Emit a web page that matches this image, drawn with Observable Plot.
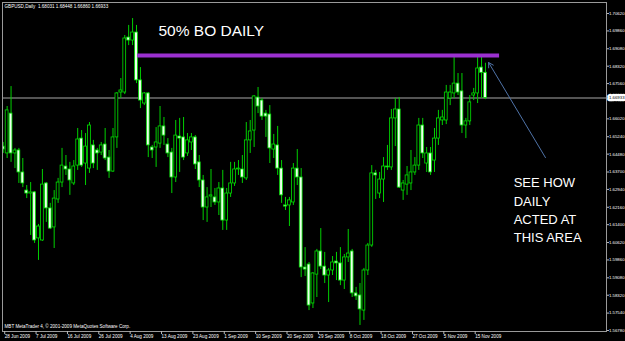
<!DOCTYPE html>
<html>
<head>
<meta charset="utf-8">
<script src="https://cdn.jsdelivr.net/npm/d3@7"></script>
<script src="https://cdn.jsdelivr.net/npm/@observablehq/plot@0.6"></script>
<style>
  html, body { margin: 0; padding: 0; background: #000; }
  #chart svg { display: block; }
</style>
</head>
<body>
<div id="chart"></div>
<script>
// GBPUSD Daily, bars 28 Jun 2009 .. 18 Nov 2009 (index 0..123, Sunday bars included)
const open = [
1.6481,1.6451,1.6625,1.6451,1.6464,1.6368,1.6289,1.6276,1.6281,1.6080,
1.6071,1.6320,1.6211,1.6128,1.6250,1.6324,1.6394,1.6381,1.6320,1.6398,
1.6516,1.6407,1.6385,1.6486,1.6464,1.6455,1.6490,1.6433,1.6372,1.6521,
1.6717,1.6717,1.6957,1.6944,1.6979,1.6770,1.6669,1.6713,1.6477,1.6477,
1.6494,1.6569,1.6490,1.6455,1.6346,1.6525,1.6521,1.6451,1.6499,1.6521,
1.6412,1.6333,1.6215,1.6263,1.6259,1.6237,1.6298,1.6158,1.6276,1.6320,
1.6381,1.6381,1.6342,1.6508,1.6551,1.6695,1.6682,1.6625,1.6621,1.6468,
1.6486,1.6385,1.6224,1.6224,1.6237,1.6385,1.6346,1.5953,1.5966,1.5796,
1.5922,1.6023,1.5957,1.5918,1.5940,1.5979,1.5971,1.5896,1.5997,1.6023,
1.5840,1.5831,1.5765,1.5940,1.6049,1.6364,1.6276,1.6337,1.6394,1.6390,
1.6604,1.6643,1.6289,1.6315,1.6320,1.6368,1.6398,1.6573,1.6407,1.6451,
1.6420,1.6516,1.6595,1.6595,1.6691,1.6713,1.6756,1.6722,1.6573,1.6591,
1.6704,1.6713,1.6826,1.68031];
const high = [
1.6499,1.6656,1.6743,1.6473,1.6473,1.6429,1.6311,1.6324,1.6285,1.6141,
1.6381,1.6324,1.6233,1.6289,1.6342,1.6473,1.6442,1.6412,1.6420,1.6560,
1.6551,1.6538,1.6586,1.6508,1.6473,1.6499,1.6560,1.6464,1.6560,1.6717,
1.6778,1.6966,1.7010,1.7040,1.7010,1.6826,1.6717,1.6717,1.6486,1.6564,
1.6656,1.6608,1.6516,1.6473,1.6595,1.6604,1.6608,1.6538,1.6538,1.6529,
1.6442,1.6355,1.6302,1.6381,1.6298,1.6324,1.6377,1.6298,1.6412,1.6412,
1.6420,1.6442,1.6586,1.6595,1.6704,1.6739,1.6691,1.6639,1.6660,1.6534,
1.6569,1.6420,1.6259,1.6259,1.6407,1.6468,1.6385,1.6040,1.5975,1.5931,
1.6032,1.6123,1.6019,1.5949,1.6001,1.6019,1.6040,1.6010,1.6119,1.6032,
1.5866,1.5883,1.5949,1.6058,1.6398,1.6377,1.6368,1.6433,1.6486,1.6643,
1.6691,1.6695,1.6333,1.6394,1.6464,1.6433,1.6604,1.6604,1.6477,1.6477,
1.6560,1.6639,1.6639,1.6748,1.6748,1.6870,1.6800,1.6800,1.6604,1.6704,
1.6735,1.6874,1.6874,1.68448];
const low = [
1.6451,1.6429,1.6412,1.6385,1.6320,1.6302,1.6254,1.6093,1.6058,1.5984,
1.6067,1.6150,1.6119,1.6036,1.6233,1.6302,1.6355,1.6268,1.6311,1.6377,
1.6390,1.6311,1.6364,1.6385,1.6377,1.6442,1.6420,1.6342,1.6368,1.6473,
1.6691,1.6708,1.6922,1.6922,1.6756,1.6647,1.6660,1.6433,1.6429,1.6390,
1.6473,1.6486,1.6433,1.6276,1.6324,1.6368,1.6420,1.6438,1.6464,1.6381,
1.6302,1.6158,1.6150,1.6215,1.6224,1.6180,1.6115,1.6115,1.6259,1.6307,
1.6355,1.6320,1.6333,1.6451,1.6477,1.6625,1.6595,1.6521,1.6407,1.6429,
1.6355,1.6233,1.6202,1.6132,1.6224,1.6311,1.5909,1.5914,1.5765,1.5774,
1.5822,1.5944,1.5883,1.5800,1.5918,1.5896,1.5874,1.5857,1.5975,1.5822,
1.5809,1.5700,1.5722,1.5918,1.6041,1.6250,1.6254,1.6237,1.6377,1.6377,
1.6481,1.6298,1.6246,1.6268,1.6289,1.6355,1.6377,1.6429,1.6368,1.6355,
1.6368,1.6486,1.6573,1.6577,1.6660,1.6691,1.6704,1.6538,1.6516,1.6573,
1.6682,1.6669,1.6691,1.66860];
const close = [
1.6468,1.6639,1.6451,1.6464,1.6368,1.6320,1.6276,1.6281,1.6071,1.6132,
1.6315,1.6211,1.6123,1.6254,1.6324,1.6398,1.6381,1.6333,1.6394,1.6512,
1.6398,1.6481,1.6573,1.6407,1.6451,1.6486,1.6429,1.6372,1.6521,1.6713,
1.6726,1.6953,1.6944,1.6979,1.6770,1.6682,1.6713,1.6486,1.6464,1.6499,
1.6569,1.6529,1.6451,1.6346,1.6529,1.6516,1.6433,1.6508,1.6521,1.6403,
1.6333,1.6215,1.6259,1.6268,1.6237,1.6298,1.6158,1.6276,1.6320,1.6381,
1.6385,1.6346,1.6508,1.6547,1.6700,1.6656,1.6612,1.6612,1.6473,1.6490,
1.6385,1.6268,1.6219,1.6246,1.6385,1.6346,1.5953,1.5944,1.5787,1.5927,
1.6023,1.5957,1.5918,1.5940,1.5975,1.5971,1.5896,1.5997,1.6014,1.5840,
1.5827,1.5770,1.5940,1.6049,1.6364,1.6355,1.6337,1.6394,1.6390,1.6604,
1.6643,1.6302,1.6320,1.6355,1.6368,1.6398,1.6573,1.6451,1.6451,1.6368,
1.6516,1.6604,1.6608,1.6717,1.6717,1.6756,1.6717,1.6573,1.6591,1.6674,
1.6713,1.6822,1.6803,1.66933];

// date axis labels (every 8 bars)
const dateTickIndex = [0,8,16,24,32,40,48,56,64,72,80,88,96,104,112,120];
const dateLabels = ["28 Jun 2009","7 Jul 2009","16 Jul 2009","26 Jul 2009","4 Aug 2009",
  "13 Aug 2009","23 Aug 2009","1 Sep 2009","10 Sep 2009","20 Sep 2009","29 Sep 2009",
  "8 Oct 2009","18 Oct 2009","27 Oct 2009","5 Nov 2009","15 Nov 2009"];
// price axis labels
const priceTicks = [1.70620,1.69860,1.69080,1.68320,1.67560,1.66020,1.65240,1.64480,1.63700,
  1.62940,1.62160,1.61400,1.60620,1.59860,1.59080,1.58320,1.57540,1.56780];

const currentPrice = 1.66933;
const titleText = "GBPUSD,Daily  1.68031 1.68448 1.66860 1.66933";
const copyrightText = "MBT MetaTrader 4, \u00a9 2001-2009 MetaQuotes Software Corp.";

// drawn objects (in bar-index / price units)
const levelLine = [{from: 34.3, to: 126.6, price: 1.6879}];
const arrowLine = [{fromX: 138.3, fromP: 1.6433, toX: 123.8, toP: 1.6848}];
const headNote = [{x: 39.6, p: 1.6984, text: "50% BO DAILY"}];
const sideNote = [{x: 130.2, p: 1.6359, text: "SEE HOW\nDAILY\nACTED AT\nTHIS AREA"}];

const candles = open.map((o, i) => ({i, o, h: high[i], l: low[i], c: close[i]}));
const green = "#00d000";
const fontTiny = "Liberation Sans, Arial, sans-serif";

const chart = Plot.plot({
  width: 625,
  height: 341,
  marginLeft: 2,
  marginRight: 19,
  marginTop: 2,
  marginBottom: 10,
  style: {background: "#000", color: "#fff", fontFamily: fontTiny},
  x: {type: "linear", domain: [-0.18, 153.87], axis: null},
  y: {type: "linear", domain: [1.56736, 1.71101], axis: null},
  marks: [
    Plot.ruleY([currentPrice], {stroke: "#707070", strokeWidth: 1.5}),
    Plot.ruleX(candles, {x: "i", y1: "l", y2: "h", stroke: green, strokeWidth: 1, clip: true}),
    Plot.rect(candles, {
      x1: d => d.i - 0.36, x2: d => d.i + 0.36,
      y1: d => Math.min(d.o, d.c), y2: d => Math.max(d.o, d.c),
      fill: d => d.c < d.o ? "#ecffec" : "#000",
      stroke: "#00e000", strokeWidth: 0.8, clip: true
    }),
    Plot.ruleY(levelLine, {x1: "from", x2: "to", y: "price", stroke: "#9b30d0", strokeWidth: 4}),
    Plot.arrow(arrowLine, {x1: "fromX", y1: "fromP", x2: "toX", y2: "toP",
      stroke: "#4f73a8", strokeWidth: 1, headLength: 8}),
    Plot.text(headNote, {x: "x", y: "p", text: "text", textAnchor: "start", lineAnchor: "middle",
      fill: "#fff", fontSize: 15.5, fontFamily: "Liberation Sans, Arial, sans-serif"}),
    Plot.text(sideNote, {x: "x", y: "p", text: "text", textAnchor: "start", lineAnchor: "top",
      fill: "#fff", fontSize: 13, lineHeight: 1.4, fontFamily: "Liberation Sans, Arial, sans-serif"}),
    Plot.frame({stroke: "#9a9a9a"}),
    Plot.axisY(priceTicks, {anchor: "right", tickSize: 2, tickPadding: 0.5,
      tickFormat: d => d.toFixed(5), fontSize: 4.3, stroke: "#bbb", fill: "#fff"}),
    Plot.axisX(dateTickIndex, {anchor: "bottom", tickSize: 3, tickPadding: 0.5,
      tickFormat: (d, k) => dateLabels[k], textAnchor: "start", dx: 1.5,
      fontSize: 4.6, stroke: "#bbb", fill: "#fff"}),
    Plot.text([currentPrice], {y: d => d, frameAnchor: "right", textAnchor: "start", dx: 2.5,
      text: d => d.toFixed(5), fill: "#000", stroke: "#fff", strokeWidth: 4.5,
      paintOrder: "stroke", fontSize: 4.3}),
    Plot.text([titleText], {frameAnchor: "top-left", textAnchor: "start", lineAnchor: "middle",
      dx: 2, dy: 4.5, fontSize: 4.6, fill: "#fff"}),
    Plot.text([copyrightText], {frameAnchor: "bottom-left", textAnchor: "start", lineAnchor: "middle",
      dx: 2, dy: -5, fontSize: 4.6, fill: "#fff"})
  ]
});
document.getElementById("chart").appendChild(chart);
</script>
</body>
</html>
